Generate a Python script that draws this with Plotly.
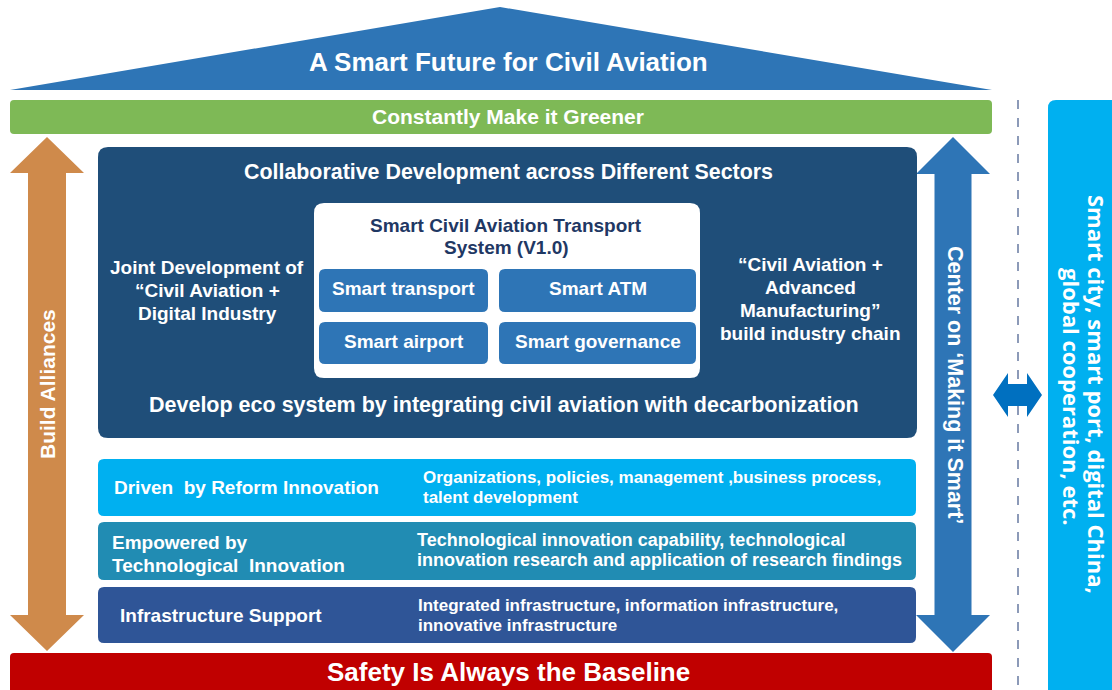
import plotly.graph_objects as go

W, H = 1112, 690

# ---- text content ----
roof_title = "A Smart Future for Civil Aviation"
green_title = "Constantly Make it Greener"
safety_title = "Safety Is Always the Baseline"
sector_title = "Collaborative Development across Different Sectors"
eco_text = "Develop eco system by integrating civil aviation with decarbonization"
system_title = ["Smart Civil Aviation Transport", "System (V1.0)"]
smart_items = ["Smart transport", "Smart ATM", "Smart airport", "Smart governance"]
left_text = ["Joint Development of", "“Civil Aviation +", "Digital Industry"]
right_text = ["“Civil Aviation +", "Advanced", "Manufacturing”", "build industry chain"]
row_titles = [["Driven  by Reform Innovation"],
              ["Empowered by", "Technological  Innovation"],
              ["Infrastructure Support"]]
row_details = [["Organizations, policies, management ,business process,", "talent development"],
               ["Technological innovation capability, technological",
                "innovation research and application of research findings"],
               ["Integrated infrastructure, information infrastructure,", "innovative infrastructure"]]
row_colors = ["#00B0F0", "#218CB3", "#2F5597"]
left_arrow_label = "Build Alliances"
right_arrow_label = "Center on ‘Making it Smart’"
outer_text = ["Smart city, smart port, digital China,", "global cooperation, etc."]

FONT = "Liberation Sans, Arial, sans-serif"
NARROW = "Liberation Sans Narrow, Arial Narrow, Liberation Sans, sans-serif"
OUTER_FONT = "Open Sans, Noto Sans, sans-serif"

shapes = []
annotations = []


def rrect(x0, y0, x1, y1, r, color):
    p = (f"M {x0+r},{y0} L {x1-r},{y0} Q {x1},{y0} {x1},{y0+r} "
         f"L {x1},{y1-r} Q {x1},{y1} {x1-r},{y1} L {x0+r},{y1} "
         f"Q {x0},{y1} {x0},{y1-r} L {x0},{y0+r} Q {x0},{y0} {x0+r},{y0} Z")
    shapes.append(dict(type="path", path=p, fillcolor=color, line=dict(width=0),
                       xref="x", yref="y"))


def poly(points, color):
    p = "M " + " L ".join(f"{x},{y}" for x, y in points) + " Z"
    shapes.append(dict(type="path", path=p, fillcolor=color, line=dict(width=0),
                       xref="x", yref="y"))


def vdouble_arrow(cx, yt, yb, hh, hw, sw, color):
    poly([(cx, yt), (cx + hw, yt + hh), (cx + sw, yt + hh), (cx + sw, yb - hh),
          (cx + hw, yb - hh), (cx, yb), (cx - hw, yb - hh), (cx - sw, yb - hh),
          (cx - sw, yt + hh), (cx - hw, yt + hh)], color)


def hdouble_arrow(cy, xl, xr, hl, hw, sw, color):
    poly([(xl, cy), (xl + hl, cy - hw), (xl + hl, cy - sw), (xr - hl, cy - sw),
          (xr - hl, cy - hw), (xr, cy), (xr - hl, cy + hw), (xr - hl, cy + sw),
          (xl + hl, cy + sw), (xl + hl, cy + hw)], color)


def text(x, y, s, size, color="white", family=FONT, xanchor="center", angle=0, bold=True):
    annotations.append(dict(x=x, y=y, xref="x", yref="y", text=s, showarrow=False,
                            xanchor=xanchor, yanchor="middle", textangle=angle,
                            font=dict(family=family, size=size, color=color,
                                      weight="bold" if bold else "normal")))


# ---- roof ----
poly([(10, 90), (500, 7), (992, 90)], "#2E75B6")
text(508, 62, roof_title, 26, family=NARROW)

# ---- green bar ----
rrect(10, 100, 992, 134, 4, "#7EB956")
text(508, 116, green_title, 21, family=NARROW)

# ---- side arrows ----
vdouble_arrow(47, 137, 651, 36, 37, 19, "#CF8A4B")
text(47, 384, left_arrow_label, 21, angle=-90)
vdouble_arrow(953, 137, 652, 37, 37, 18.5, "#2E75B6")
text(955, 385, right_arrow_label, 21.5, angle=90)

# ---- navy box ----
rrect(98, 147, 917, 438, 10, "#1F4E79")
text(508, 172, sector_title, 21.4)
rrect(314, 203, 700, 378, 10, "#FFFFFF")
text(506, 225, system_title[0], 19, color="#1F3864")
text(506, 247, system_title[1], 19, color="#1F3864")
boxes = [(319, 269, 488, 312), (499, 269, 696, 312), (319, 322, 488, 364), (499, 322, 696, 364)]
for (x0, y0, x1, y1), lab in zip(boxes, smart_items):
    rrect(x0, y0, x1, y1, 6, "#2E75B6")
    text((x0 + x1) / 2, (y0 + y1) / 2 - 2, lab, 19)
for i, s in enumerate(left_text):
    text(207, 267 + 23 * i, s, 19)
for i, s in enumerate(right_text):
    text(810, 264 + 23 * i, s, 19)
text(504, 405, eco_text, 21.5)

# ---- three rows ----
row_y = [(459, 516), (522, 580), (587, 643)]
title_x = [112, 110, 118]
detail_x = [421, 415, 416]
title_y = [[487], [542, 565], [615]]
detail_y = [[477, 497], [540, 560], [605, 625]]
detail_size = [17, 18, 17]
for i, (y0, y1) in enumerate(row_y):
    rrect(98, y0, 916, y1, 6, row_colors[i])
    for s, yy in zip(row_titles[i], title_y[i]):
        text(title_x[i], yy, s, 19, xanchor="left")
    for s, yy in zip(row_details[i], detail_y[i]):
        text(detail_x[i], yy, s, detail_size[i], xanchor="left")

# ---- safety bar ----
rrect(10, 653, 992, 700, 4, "#C00000")
text(508, 672, safety_title, 26)

# ---- right side ----
shapes.append(dict(type="line", x0=1018, x1=1018, y0=100, y1=690, xref="x", yref="y",
                   line=dict(color="#8C9AB8", width=2, dash="dash")))
hdouble_arrow(395, 993, 1042, 15, 22, 11, "#0070C0")
rrect(1048, 100, 1125, 700, 8, "#00B0F0")
text(1097, 394, outer_text[0], 22, family=OUTER_FONT, angle=90)
text(1072, 397, outer_text[1], 22, family=OUTER_FONT, angle=90)

fig = go.Figure()
fig.update_layout(
    width=W, height=H,
    margin=dict(l=0, r=0, t=0, b=0),
    paper_bgcolor="white", plot_bgcolor="white",
    xaxis=dict(range=[0, W], visible=False, fixedrange=True),
    yaxis=dict(range=[H, 0], visible=False, fixedrange=True),
    shapes=shapes, annotations=annotations, showlegend=False,
)
fig.write_html("out.html", config=dict(displayModeBar=False),
               post_script="document.body.style.margin='0';document.body.style.overflow='hidden';")
